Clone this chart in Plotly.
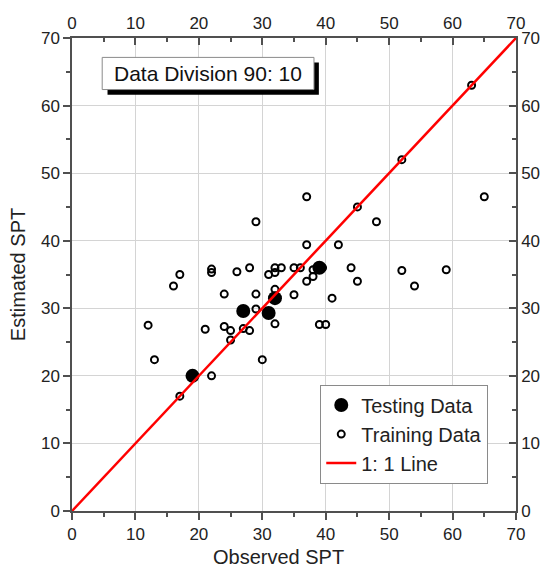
import plotly.graph_objects as go

# Testing data (observed, estimated)
test_obs = [19, 27, 31, 32, 39]
test_est = [20, 29.6, 29.3, 31.5, 36]

# Training data (observed, estimated)
train_obs = [12, 13, 16, 17, 17, 21, 22, 22, 22, 24, 24, 25, 25, 26, 27, 28, 28,
             29, 29, 29, 30, 31, 32, 32, 33, 32, 32, 35, 35, 36, 37, 37, 37, 38,
             38, 39.5, 39, 40, 41, 42, 44, 45, 45, 48, 52, 52, 54, 59, 63, 65]
train_est = [27.5, 22.4, 33.3, 35, 17, 26.9, 35.8, 35.3, 20, 32.1, 27.3, 26.7, 25.3,
             35.4, 27, 36, 26.7, 42.8, 32.1, 29.9, 22.4, 35, 35.3, 36, 36, 32.8, 27.7,
             36, 32, 36, 46.5, 39.4, 34, 35.7, 34.7, 36, 27.6, 27.6, 31.5, 39.4, 36,
             45, 34, 42.8, 52, 35.6, 33.3, 35.7, 63, 46.5]

# 1:1 line
line_x = [0, 70]
line_y = [0, 70]

axis_range = [0, 70]
tick_vals = [0, 10, 20, 30, 40, 50, 60, 70]
tick_text = [str(v) for v in tick_vals]

FONT = "Liberation Sans, Arial, sans-serif"
AX = "#505050"

fig = go.Figure()
fig.add_trace(go.Scatter(x=train_obs, y=train_est, mode="markers", name="Training Data",
                         marker=dict(symbol="circle-open", size=7, color="black",
                                     line=dict(width=2, color="black")),
                         legendrank=2))
fig.add_trace(go.Scatter(x=test_obs, y=test_est, mode="markers", name="Testing Data",
                         marker=dict(symbol="circle", size=14, color="black"),
                         legendrank=1))
fig.add_trace(go.Scatter(x=line_x, y=line_y, mode="lines", name="1: 1 Line",
                         line=dict(color="#ff0000", width=2.5), legendrank=3))
fig.add_trace(go.Scatter(x=[], y=[], xaxis="x2", yaxis="y2", showlegend=False,
                         hoverinfo="skip"))

common = dict(range=axis_range, tickvals=tick_vals, ticktext=tick_text,
              showline=True, linecolor=AX, linewidth=1.5, tickcolor=AX,
              tickwidth=1.5, zeroline=False,
              tickfont=dict(family=FONT, size=17, color="#222"))

fig.update_layout(
    width=552, height=575,
    margin=dict(l=72, r=27, t=38, b=64),
    paper_bgcolor="white", plot_bgcolor="white",
    font=dict(family=FONT, color="#222"),
    xaxis=dict(**common, ticks="outside", ticklen=7, showgrid=True,
               gridcolor="#d4d4d4", gridwidth=1,
               minor=dict(dtick=5, ticks="outside", ticklen=4, tickcolor=AX,
                          tickwidth=1.5, showgrid=False)),
    yaxis=dict(**common, ticks="outside", ticklen=7, showgrid=True,
               gridcolor="#d4d4d4", gridwidth=1,
               minor=dict(dtick=5, ticks="outside", ticklen=4, tickcolor=AX,
                          tickwidth=1.5, showgrid=False),
               title=dict(text="Estimated SPT", font=dict(family=FONT, size=20, color="#222"),
                          standoff=10)),
    xaxis2=dict(**common, overlaying="x", side="top", anchor="y", ticks="inside",
                ticklen=7, showgrid=False,
                minor=dict(dtick=5, ticks="inside", ticklen=4, tickcolor=AX,
                           tickwidth=1.5, showgrid=False)),
    yaxis2=dict(**common, overlaying="y", side="right", anchor="x", ticks="inside",
                ticklen=7, showgrid=False,
                minor=dict(dtick=5, ticks="inside", ticklen=4, tickcolor=AX,
                           tickwidth=1.5, showgrid=False)),
    legend=dict(x=0.9375, y=0.058, xanchor="right", yanchor="bottom",
                bgcolor="white", bordercolor="#8a8a8a", borderwidth=1,
                font=dict(family=FONT, size=20, color="#222"),
                tracegroupgap=0, itemsizing="trace"),
    showlegend=True,
)

# x-axis title (slightly left of centre, as in the reference)
fig.add_annotation(xref="paper", yref="paper", x=0.464, y=-0.097, text="Observed SPT",
                   showarrow=False, xanchor="center", yanchor="middle",
                   font=dict(family=FONT, size=20, color="#222"))

# Text box with drop shadow
fig.add_shape(type="rect", xref="paper", yref="paper", x0=0.080, x1=0.556,
              y0=0.880, y1=0.948, fillcolor="black", line=dict(width=0), layer="above")
fig.add_shape(type="rect", xref="paper", yref="paper", x0=0.068, x1=0.545,
              y0=0.891, y1=0.959, fillcolor="white", line=dict(color="#8a8a8a", width=1),
              layer="above")
fig.add_annotation(xref="paper", yref="paper", x=0.3065, y=0.925, text="Data Division 90: 10",
                   showarrow=False, xanchor="center", yanchor="middle",
                   font=dict(family=FONT, size=21, color="#111"))

fig.write_html("out.html")
